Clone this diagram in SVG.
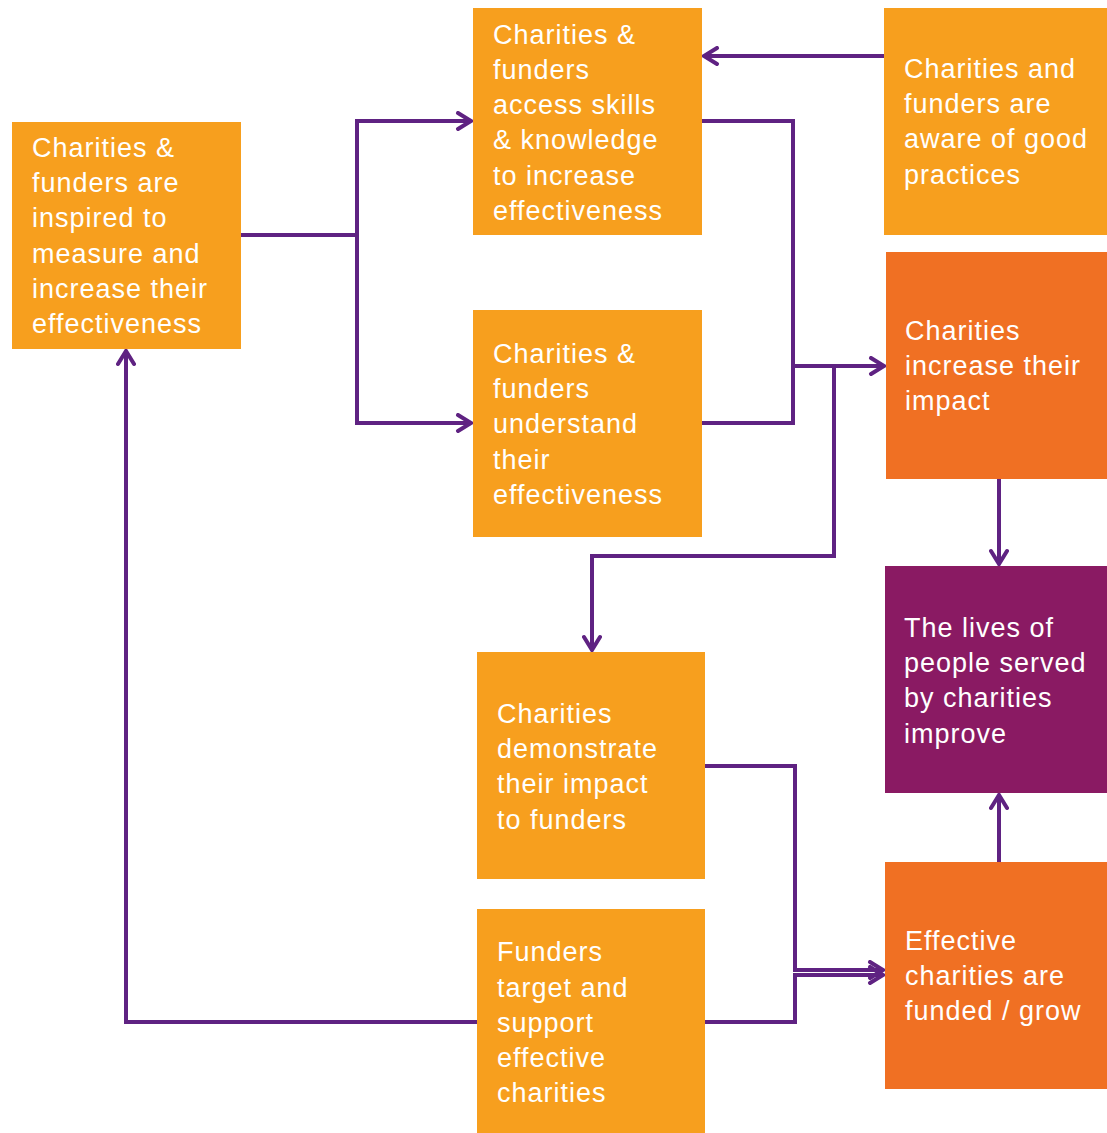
<svg xmlns="http://www.w3.org/2000/svg" width="1107" height="1133" viewBox="0 0 1107 1133">
  <style>
    .amber { fill: #F79F1E; }
    .tangerine { fill: #F07023; }
    .plum { fill: #8A1A63; }
    .label { fill: #FFFFFF; font-family: "Liberation Sans", Arial, sans-serif; font-size: 27px; letter-spacing: 1px; }
    .wire { fill: none; stroke: #5F2282; stroke-width: 4; stroke-linejoin: miter; }
    .arrow { marker-end: url(#head); }
  </style>
  <defs>
    <marker id="head" viewBox="0 0 20 20" refX="17" refY="10" markerWidth="20" markerHeight="20" markerUnits="userSpaceOnUse" orient="auto">
      <path d="M4,2 L17,10 L4,18" fill="none" stroke="#5F2282" stroke-width="4" stroke-linecap="round" stroke-linejoin="miter"/>
    </marker>
  </defs>
  <rect width="1107" height="1133" fill="#FFFFFF"/>

  <g id="connectors">
    <!-- good practices feed skills access -->
    <path class="wire arrow" d="M884,56 H704"/>
    <!-- inspiration splits to skills and understanding -->
    <path class="wire" d="M241,235 H357"/>
    <path class="wire arrow" d="M357,235 V121 H471"/>
    <path class="wire arrow" d="M357,235 V423 H471"/>
    <!-- skills and understanding merge into impact -->
    <path class="wire" d="M702,121 H793 V423 H702"/>
    <path class="wire arrow" d="M793,366 H884"/>
    <path class="wire arrow" d="M834,366 V556 H592 V650"/>
    <!-- impact improves lives -->
    <path class="wire arrow" d="M999,479 V564"/>
    <!-- demonstration and targeting lead to funding -->
    <path class="wire arrow" d="M705,766 H795 V970 H883"/>
    <path class="wire arrow" d="M705,1022 H795 V975 H883"/>
    <!-- funding improves lives -->
    <path class="wire arrow" d="M999,862 V795"/>
    <!-- targeting loops back to inspiration -->
    <path class="wire arrow" d="M477,1022 H126 V351"/>
  </g>

  <g id="node-inspired">
    <rect class="amber" x="12" y="122" width="229" height="227"/>
    <text class="label" x="32" y="157">Charities &amp;</text>
    <text class="label" x="32" y="192">funders are</text>
    <text class="label" x="32" y="227">inspired to</text>
    <text class="label" x="32" y="263">measure and</text>
    <text class="label" x="32" y="298">increase their</text>
    <text class="label" x="32" y="333">effectiveness</text>
  </g>

  <g id="node-skills">
    <rect class="amber" x="473" y="8" width="229" height="227"/>
    <text class="label" x="493" y="44">Charities &amp;</text>
    <text class="label" x="493" y="79">funders</text>
    <text class="label" x="493" y="114">access skills</text>
    <text class="label" x="493" y="149">&amp; knowledge</text>
    <text class="label" x="493" y="185">to increase</text>
    <text class="label" x="493" y="220">effectiveness</text>
  </g>

  <g id="node-understand">
    <rect class="amber" x="473" y="310" width="229" height="227"/>
    <text class="label" x="493" y="363">Charities &amp;</text>
    <text class="label" x="493" y="398">funders</text>
    <text class="label" x="493" y="433">understand</text>
    <text class="label" x="493" y="469">their</text>
    <text class="label" x="493" y="504">effectiveness</text>
  </g>

  <g id="node-practices">
    <rect class="amber" x="884" y="8" width="223" height="227"/>
    <text class="label" x="904" y="78">Charities and</text>
    <text class="label" x="904" y="113">funders are</text>
    <text class="label" x="904" y="148">aware of good</text>
    <text class="label" x="904" y="184">practices</text>
  </g>

  <g id="node-impact">
    <rect class="tangerine" x="886" y="252" width="221" height="227"/>
    <text class="label" x="905" y="340">Charities</text>
    <text class="label" x="905" y="375">increase their</text>
    <text class="label" x="905" y="410">impact</text>
  </g>

  <g id="node-lives">
    <rect class="plum" x="885" y="566" width="222" height="227"/>
    <text class="label" x="904" y="637">The lives of</text>
    <text class="label" x="904" y="672">people served</text>
    <text class="label" x="904" y="707">by charities</text>
    <text class="label" x="904" y="743">improve</text>
  </g>

  <g id="node-demonstrate">
    <rect class="amber" x="477" y="652" width="228" height="227"/>
    <text class="label" x="497" y="723">Charities</text>
    <text class="label" x="497" y="758">demonstrate</text>
    <text class="label" x="497" y="793">their impact</text>
    <text class="label" x="497" y="829">to funders</text>
  </g>

  <g id="node-target">
    <rect class="amber" x="477" y="909" width="228" height="224"/>
    <text class="label" x="497" y="961">Funders</text>
    <text class="label" x="497" y="997">target and</text>
    <text class="label" x="497" y="1032">support</text>
    <text class="label" x="497" y="1067">effective</text>
    <text class="label" x="497" y="1102">charities</text>
  </g>

  <g id="node-funded">
    <rect class="tangerine" x="885" y="862" width="222" height="227"/>
    <text class="label" x="905" y="950">Effective</text>
    <text class="label" x="905" y="985">charities are</text>
    <text class="label" x="905" y="1020">funded / grow</text>
  </g>
</svg>
